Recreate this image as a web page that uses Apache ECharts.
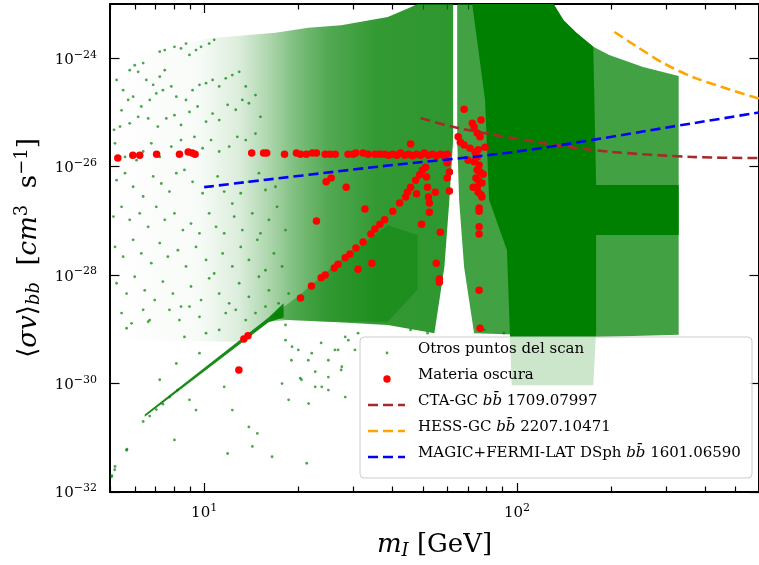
<!DOCTYPE html>
<html><head><meta charset="utf-8">
<script src="https://cdn.jsdelivr.net/npm/echarts@6/dist/echarts.min.js"></script>
<style>html,body{margin:0;padding:0;background:#fff}#c{width:759px;height:565px}</style>
</head><body><div id="c"></div>
<script>
// ---------- axis / tick data ----------
const massRange = [5, 594];                 // GeV
const sigmaExpRange = [-32, -23];           // log10 <sigma v>
const xMajorTickMasses = [10, 100];
const xMinorTickMasses = [5, 6, 7, 8, 9, 20, 30, 40, 50, 60, 70, 80, 90, 200, 300, 400, 500];
const yTickExponents = [-32, -30, -28, -26, -24];

// ---------- limit curves (GeV, cm^3 s^-1) ----------
const ctaMass  = [49.2, 64.4, 127, 197, 364, 600];
const ctaSigma = [7.9e-26, 5.2e-26, 2.6e-26, 1.89e-26, 1.51e-26, 1.44e-26];
const hessMass  = [205, 240, 293, 372, 594];
const hessSigma = [3.05e-24, 1.68e-24, 8.2e-25, 4.3e-25, 1.8e-25];
const magicMass  = [10, 36, 100, 370, 594];
const magicSigma = [4.2e-27, 1.0e-26, 1.9e-26, 6.4e-26, 1.0e-25];

// ---------- dark matter points [log10 m, log10 sigma v] ----------
const darkMatterLog = [
[0.724,-25.84],[0.772,-25.79],[0.794,-25.79],[0.848,-25.77],[0.921,-25.77],[0.949,-25.73],[0.962,-25.75],[0.971,-25.77],
[1.152,-25.75],[1.190,-25.75],[1.200,-25.75],[1.257,-25.77],[1.295,-25.75],[1.308,-25.77],[1.327,-25.77],[1.346,-25.75],
[1.359,-25.75],[1.387,-25.77],[1.403,-25.77],[1.419,-25.77],[1.460,-25.77],[1.476,-25.77],[1.485,-25.75],[1.508,-25.75],
[1.524,-25.77],[1.546,-25.77],[1.562,-25.77],[1.577,-25.77],[1.590,-25.79],[1.603,-25.77],[1.616,-25.79],[1.628,-25.75],
[1.641,-25.79],[1.654,-25.77],[1.666,-25.80],[1.679,-25.77],[1.692,-25.79],[1.704,-25.75],[1.717,-25.79],[1.730,-25.77],
[1.742,-25.80],[1.755,-25.77],[1.768,-25.79],[1.777,-25.77],
[1.390,-26.28],[1.406,-26.21],[1.454,-26.38],[1.514,-26.78],[1.359,-27.00],
[1.111,-29.75],[1.127,-29.18],[1.140,-29.12],[1.308,-28.42],[1.343,-28.20],[1.374,-28.05],[1.387,-28.00],[1.416,-27.87],
[1.428,-27.80],[1.451,-27.68],[1.466,-27.61],[1.485,-27.50],[1.508,-27.39],[1.533,-27.24],[1.546,-27.15],[1.562,-27.06],
[1.577,-26.98],[1.603,-26.82],[1.625,-26.67],[1.644,-26.56],[1.650,-26.47],[1.660,-26.38],[1.676,-26.25],[1.689,-26.15],
[1.698,-26.06],[1.492,-27.89],[1.536,-27.78],
[1.708,-26.01],[1.711,-26.19],[1.714,-26.38],[1.717,-26.56],[1.720,-26.67],[1.720,-26.84],[1.660,-25.58],[1.679,-26.50],
[1.695,-27.06],[1.739,-26.47],[1.771,-25.82],[1.777,-25.93],[1.784,-26.10],[1.777,-26.21],[1.784,-26.45],[1.755,-27.21],
[1.742,-27.78],[1.752,-28.07],[1.752,-28.13],
[1.831,-24.94],[1.857,-25.20],[1.885,-25.14],[1.863,-25.27],[1.873,-25.38],[1.882,-25.45],[1.898,-25.64],[1.812,-25.45],
[1.819,-25.55],[1.831,-25.60],[1.850,-25.66],[1.866,-25.73],[1.873,-25.82],[1.844,-25.88],[1.863,-25.91],[1.879,-25.97],
[1.882,-26.10],[1.892,-26.14],[1.873,-26.06],[1.869,-26.21],[1.873,-26.38],[1.860,-26.38],[1.888,-26.30],[1.885,-26.52],
[1.888,-26.56],[1.879,-26.76],[1.879,-26.82],[1.879,-27.11],[1.879,-27.24],[1.879,-28.28],[1.882,-28.98],[1.876,-25.69],
[1.876,-26.25],[1.876,-26.47]
];

// ---------- sparse scan points [log10 m, log10 sigma v] ----------
const scanSparseLog = [
[0.858,-23.88],[0.874,-23.85],[0.905,-23.79],[0.926,-23.82],[0.942,-23.73],[0.953,-23.94],[0.974,-23.85],[0.990,-23.79],
[1.016,-23.73],[1.032,-23.66],[0.741,-24.59],[0.762,-24.22],[0.778,-24.13],[0.789,-24.25],[0.805,-24.09],[0.815,-24.40],
[0.837,-24.49],[0.858,-24.34],[0.874,-24.22],[0.720,-24.40],[0.736,-24.96],[0.757,-24.77],[0.773,-24.71],[0.799,-24.89],
[0.826,-24.77],[0.847,-24.65],[0.868,-24.59],[0.895,-24.52],[0.911,-24.71],[0.942,-24.77],[0.963,-24.59],[0.985,-24.49],
[1.006,-24.46],[1.027,-24.40],[1.048,-24.52],[1.069,-24.37],[1.090,-24.31],[1.112,-24.25],[1.133,-24.52],[0.712,-25.32],
[0.731,-25.26],[0.762,-25.20],[0.789,-25.08],[0.821,-25.11],[0.852,-25.26],[0.879,-25.11],[0.905,-25.05],[0.926,-25.23],
[0.953,-24.99],[0.979,-24.89],[1.006,-25.17],[1.027,-25.02],[1.048,-25.14],[1.075,-24.86],[1.101,-24.95],[1.122,-24.77],
[1.143,-24.83],[1.164,-24.68],[1.180,-25.08],[0.715,-25.57],[0.747,-25.82],[0.784,-25.88],[0.805,-25.72],[0.831,-25.57],
[0.858,-25.82],[0.895,-25.63],[0.926,-25.51],[0.969,-25.45],[0.995,-25.66],[1.022,-25.51],[1.048,-25.72],[1.080,-25.63],
[1.106,-25.45],[1.133,-25.51],[1.164,-25.39],[0.720,-26.25],[0.747,-26.12],[0.773,-26.37],[0.805,-26.55],[0.837,-26.18],
[0.863,-26.31],[0.889,-26.46],[0.911,-26.12],[0.937,-26.06],[0.963,-26.28],[0.995,-26.49],[1.022,-26.37],[1.043,-26.18],
[1.064,-26.46],[1.090,-26.68],[1.117,-26.49],[1.143,-26.28],[1.175,-26.12],[1.196,-26.43],[1.228,-26.37],[0.710,-26.92],
[0.736,-26.74],[0.762,-26.98],[0.794,-26.86],[0.821,-27.11],[0.847,-26.74],[0.874,-26.98],[0.905,-26.86],[0.932,-27.17],
[0.958,-27.05],[0.985,-27.23],[1.016,-26.86],[1.038,-27.11],[1.064,-27.23],[1.096,-26.92],[1.122,-27.17],[1.154,-26.86],
[1.180,-27.23],[1.207,-26.98],[1.233,-26.74],[1.260,-27.17],[0.715,-27.48],[0.741,-27.66],[0.773,-27.35],[0.799,-27.60],
[0.831,-27.78],[0.858,-27.41],[0.884,-27.66],[0.916,-27.54],[0.942,-27.84],[0.974,-27.48],[1.006,-27.72],[1.032,-27.97],
[1.059,-27.60],[1.090,-27.84],[1.117,-27.48],[1.143,-27.72],[1.170,-27.35],[1.196,-27.91],[1.223,-27.60],[1.249,-27.84],
[0.720,-28.15],[0.752,-28.34],[0.778,-28.03],[0.810,-28.28],[0.842,-28.46],[0.868,-28.12],[0.900,-28.34],[0.926,-28.58],
[0.958,-28.21],[0.990,-28.46],[1.016,-28.06],[1.048,-28.34],[1.080,-28.52],[1.112,-28.15],[1.143,-28.40],[1.175,-28.03],
[1.207,-28.28],[1.238,-28.52],[1.270,-28.34],[0.736,-28.70],[0.768,-28.89],[0.805,-28.64],[0.826,-28.83],[0.889,-28.64],
[0.921,-28.83],[0.953,-28.58],[0.985,-28.77],[1.069,-28.70],[1.101,-28.64],[1.133,-28.83],[1.164,-28.70],[1.196,-28.58],
[1.233,-28.74],[1.260,-28.92],[0.752,-28.98],[0.821,-28.86],[0.937,-29.14],[1.006,-29.07],[1.048,-29.01],[0.911,-29.63],
[0.985,-29.44],[0.858,-29.93],[0.953,-30.30],[0.974,-30.49],[1.064,-30.06],[1.090,-30.49],[1.143,-30.80],[1.170,-30.92],
[1.217,-31.35],[1.075,-31.29],[1.154,-31.16],[1.328,-31.47],[1.334,-30.37],[1.270,-30.30],[1.249,-30.00],[1.307,-29.90],
[1.355,-29.78],[1.376,-30.06],[1.397,-29.57],[1.440,-29.69],[1.418,-29.38],[1.461,-29.20],[1.281,-29.32],[1.344,-29.44],
[0.752,-31.23],[0.715,-31.53],[0.905,-31.04],[0.704,-31.72],[0.705,-31.70],[0.714,-31.59],[0.753,-31.21],
[1.260,-29.20],[1.301,-29.38],[1.333,-29.57],[1.374,-29.25],[1.428,-29.38],[1.451,-29.14],[1.492,-29.07],[1.397,-29.88],
[1.279,-29.57],[1.311,-29.93],[1.355,-30.06],[1.397,-30.12],[1.451,-30.25],[1.438,-29.75],[1.482,-29.38],[1.660,-29.01],
[1.714,-29.07],[1.895,-29.01],[1.958,-29.07],
[0.805,-30.70],[0.826,-30.60],[0.847,-30.48],[0.868,-30.38],[0.890,-30.25],[0.915,-30.12]
];

// ---------- dense scan regions (polygons, [log10 m, log10 sigma v]) ----------
const regionLeft = [[0.705,-24.40],[0.740,-24.16],[0.857,-23.85],[1.016,-23.63],[1.228,-23.53],[1.333,-23.44],[1.438,-23.39],
  [1.587,-23.24],[1.660,-23.06],[1.682,-23.00],[1.796,-23.00],[1.796,-25.51],[1.784,-26.61],[1.768,-27.85],[1.736,-29.07],
  [1.587,-28.92],[1.397,-28.86],[1.270,-28.83],[1.206,-28.86],[1.111,-29.23],[0.705,-29.20]];
// density of the left region along log10 m: [log10 m, fill alpha]
const regionLeftDensity = [[0.705,0.0],[0.985,0.03],[1.111,0.14],[1.206,0.32],[1.300,0.52],[1.397,0.68],[1.550,0.8],[1.796,0.82]];
const regionWedge = [[1.206,-28.79],[1.301,-28.39],[1.428,-27.76],[1.587,-27.08],[1.682,-27.26],[1.682,-28.27],[1.587,-28.86],
  [1.397,-28.86],[1.270,-28.83]];
const regionDiagonal = [[0.810,-30.57],[1.206,-28.78],[1.254,-28.52],[1.254,-28.78],[1.206,-28.87],[0.810,-30.61]];
const regionRightOuter = [[1.809,-23.00],[2.117,-23.00],[2.149,-23.30],[2.190,-23.53],[2.244,-23.79],[2.295,-23.94],[2.403,-24.16],
  [2.517,-24.33],[2.517,-29.10],[2.253,-29.14],[1.863,-29.07],[1.831,-27.85],[1.815,-26.61],[1.809,-25.51]];
const regionRightCore = [[1.857,-23.00],[2.117,-23.00],[2.149,-23.30],[2.190,-23.53],[2.244,-23.79],[2.253,-26.34],[2.517,-26.34],
  [2.517,-27.26],[2.253,-27.26],[2.253,-29.01],[2.244,-30.03],[1.983,-30.03],[1.977,-29.01],[1.968,-27.54],[1.911,-26.61],[1.898,-24.77]];
const denseRegions = [regionLeft, regionWedge, regionDiagonal, regionRightOuter, regionRightCore];
const denseOpacity = [null, 0.4, 0.9, 0.74, 1.0];

// ---------- helpers ----------
const FONT = 'DejaVu Serif';
const lg = v => Math.log10(v);
const curve = (ms, ss) => ms.map((m, i) => [lg(m), lg(ss[i])]);
const dash = [10, 5];
const supRich = {
  b: {fontFamily: FONT, fontSize: 15, lineHeight: 18, verticalAlign: 'bottom', color: '#000'},
  s: {fontFamily: FONT, fontSize: 11, lineHeight: 12, verticalAlign: 'top', color: '#000'}
};
const xMin = lg(massRange[0]), xMax = lg(massRange[1]);
function xAxisDef(pos, major, showLine, withLabel) {
  return {
    type: 'value', position: pos, min: xMin, max: xMax,
    axisLine: {show: showLine, onZero: false, lineStyle: {color: '#000', width: 2}},
    axisTick: {show: true, inside: true, length: major ? 9 : 5.5, lineStyle: {color: '#000', width: 1.2},
      customValues: major ? xMajorTickMasses.map(lg) : xMinorTickMasses.map(lg)},
    axisLabel: withLabel ? {show: true, margin: 11, customValues: xMajorTickMasses.map(lg),
      formatter: v => '{b|10}{s|' + Math.round(v) + '}', rich: supRich} : {show: false},
    splitLine: {show: false}
  };
}
const chart = echarts.init(document.getElementById('c'), null, {renderer: 'canvas'});
const legendX = 360, legendY = 337;
const legendRows = [353, 379, 405, 431, 457];
const txt = (y, text) => ({type: 'text', left: 418, top: y - 11, z: 101,
  style: {text: text, rich: {
    t: {fontFamily: FONT, fontSize: 15, lineHeight: 22, fill: '#000'},
    i: {fontFamily: FONT, fontSize: 15, fontStyle: 'italic', lineHeight: 22, fill: '#000'}}}});
const dashLine = (y, color) => ({type: 'line', z: 101, shape: {x1: 368, y1: y, x2: 405, y2: y},
  style: {stroke: color, lineWidth: 2.6, lineDash: dash}});

function fillFor(k, api) {
  if (denseOpacity[k] !== null) return {fill: '#008000', opacity: denseOpacity[k]};
  const px = regionLeftDensity.map(d => api.coord([d[0], -30])[0]);
  const x0 = px[0], x1 = px[px.length - 1];
  const stops = regionLeftDensity.map((d, i) => ({offset: (px[i] - x0) / (x1 - x0), color: 'rgba(0,128,0,' + d[1] + ')'}));
  return {fill: new echarts.graphic.LinearGradient(x0, 0, x1, 0, stops, true)};
}

chart.setOption({
  animation: false,
  backgroundColor: '#fff',
  grid: {left: 110, top: 4, right: -5, bottom: 73, containLabel: false},
  xAxis: [
    Object.assign(xAxisDef('bottom', true, true, true), {
      name: '{i|m}{sb|I}{t| [GeV]}', nameLocation: 'middle', nameGap: 38,
      nameTextStyle: {rich: {
        i: {fontFamily: FONT, fontSize: 26, fontStyle: 'italic', lineHeight: 30, verticalAlign: 'middle', color: '#000'},
        t: {fontFamily: FONT, fontSize: 26, lineHeight: 30, verticalAlign: 'middle', color: '#000'},
        sb: {fontFamily: FONT, fontSize: 18, fontStyle: 'italic', lineHeight: 22, verticalAlign: 'bottom', color: '#000'}}}
    }),
    xAxisDef('bottom', false, false, false),
    xAxisDef('top', true, true, false),
    xAxisDef('top', false, false, false)
  ],
  yAxis: [
    {type: 'value', position: 'left', min: sigmaExpRange[0], max: sigmaExpRange[1],
      axisLine: {show: true, onZero: false, lineStyle: {color: '#000', width: 2}},
      axisTick: {show: true, inside: true, length: 9.5, customValues: yTickExponents, lineStyle: {color: '#000', width: 1.2}},
      axisLabel: {show: true, margin: 13, customValues: yTickExponents,
        formatter: v => '{b|10}{s|\u2212' + Math.abs(Math.round(v)) + '}', rich: supRich},
      splitLine: {show: false},
      name: '{t|\u27e8}{i|\u03c3v}{t|\u27e9}{sb|bb}{t|  [}{i|cm}{sp|3}{t|  s}{sp|\u22121}{t|]}',
      nameLocation: 'middle', nameRotate: 90, nameGap: 62,
      nameTextStyle: {rich: {
        i: {fontFamily: FONT, fontSize: 26, fontStyle: 'italic', lineHeight: 30, verticalAlign: 'middle', color: '#000'},
        t: {fontFamily: FONT, fontSize: 26, lineHeight: 30, verticalAlign: 'middle', color: '#000'},
        sb: {fontFamily: FONT, fontSize: 18, fontStyle: 'italic', lineHeight: 22, verticalAlign: 'bottom', color: '#000'},
        sp: {fontFamily: FONT, fontSize: 18, lineHeight: 22, verticalAlign: 'top', color: '#000'}}}
    },
    {type: 'value', position: 'right', min: sigmaExpRange[0], max: sigmaExpRange[1],
      axisLine: {show: true, onZero: false, lineStyle: {color: '#000', width: 2}},
      axisTick: {show: true, inside: true, length: 9.5, customValues: yTickExponents, lineStyle: {color: '#000', width: 1.2}},
      axisLabel: {show: false}, splitLine: {show: false}}
  ],
  series: [
    {type: 'custom', name: 'dense', xAxisIndex: 0, yAxisIndex: 0, clip: true, silent: true, z: 1,
      data: denseRegions.map((_, i) => [i]),
      renderItem: (params, api) => {
        const k = api.value(0);
        return {type: 'polygon', shape: {points: denseRegions[k].map(p => api.coord(p))}, style: fillFor(k, api)};
      }},
    {type: 'scatter', name: 'Otros puntos del scan', data: scanSparseLog, symbolSize: 2.8, z: 2,
      itemStyle: {color: '#008000', opacity: 0.7}, silent: true},
    {type: 'scatter', name: 'Materia oscura', data: darkMatterLog, symbolSize: 7.5, z: 3,
      itemStyle: {color: '#ff0000', opacity: 1}, silent: true},
    {type: 'line', name: 'CTA-GC', data: curve(ctaMass, ctaSigma), smooth: 0.3, showSymbol: false, symbol: 'none', z: 4,
      lineStyle: {color: '#a52a2a', width: 2.6, type: dash}},
    {type: 'line', name: 'HESS-GC', data: curve(hessMass, hessSigma), smooth: 0.3, showSymbol: false, symbol: 'none', z: 4,
      lineStyle: {color: '#ffa500', width: 2.6, type: dash}},
    {type: 'line', name: 'MAGIC+FERMI-LAT DSph', data: curve(magicMass, magicSigma), smooth: 0.3, showSymbol: false, symbol: 'none', z: 4,
      lineStyle: {color: '#0000ff', width: 2.6, type: dash}}
  ],
  graphic: [
    {type: 'rect', z: 100, shape: {x: legendX, y: legendY, width: 392, height: 141, r: 4},
      style: {fill: 'rgba(255,255,255,0.8)', stroke: '#cccccc', lineWidth: 1}},
    {type: 'circle', z: 101, shape: {cx: 387, cy: legendRows[0], r: 1.4}, style: {fill: '#008000', opacity: 0.7}},
    txt(legendRows[0], '{t|Otros puntos del scan}'),
    {type: 'circle', z: 101, shape: {cx: 387, cy: legendRows[1], r: 3.7}, style: {fill: '#ff0000'}},
    txt(legendRows[1], '{t|Materia oscura}'),
    dashLine(legendRows[2], '#a52a2a'),
    txt(legendRows[2], '{t|CTA-GC }{i|bb\u0304}{t| 1709.07997}'),
    dashLine(legendRows[3], '#ffa500'),
    txt(legendRows[3], '{t|HESS-GC }{i|bb\u0304}{t| 2207.10471}'),
    dashLine(legendRows[4], '#0000ff'),
    txt(legendRows[4], '{t|MAGIC+FERMI-LAT DSph }{i|bb\u0304}{t| 1601.06590}')
  ]
});
</script></body></html>
